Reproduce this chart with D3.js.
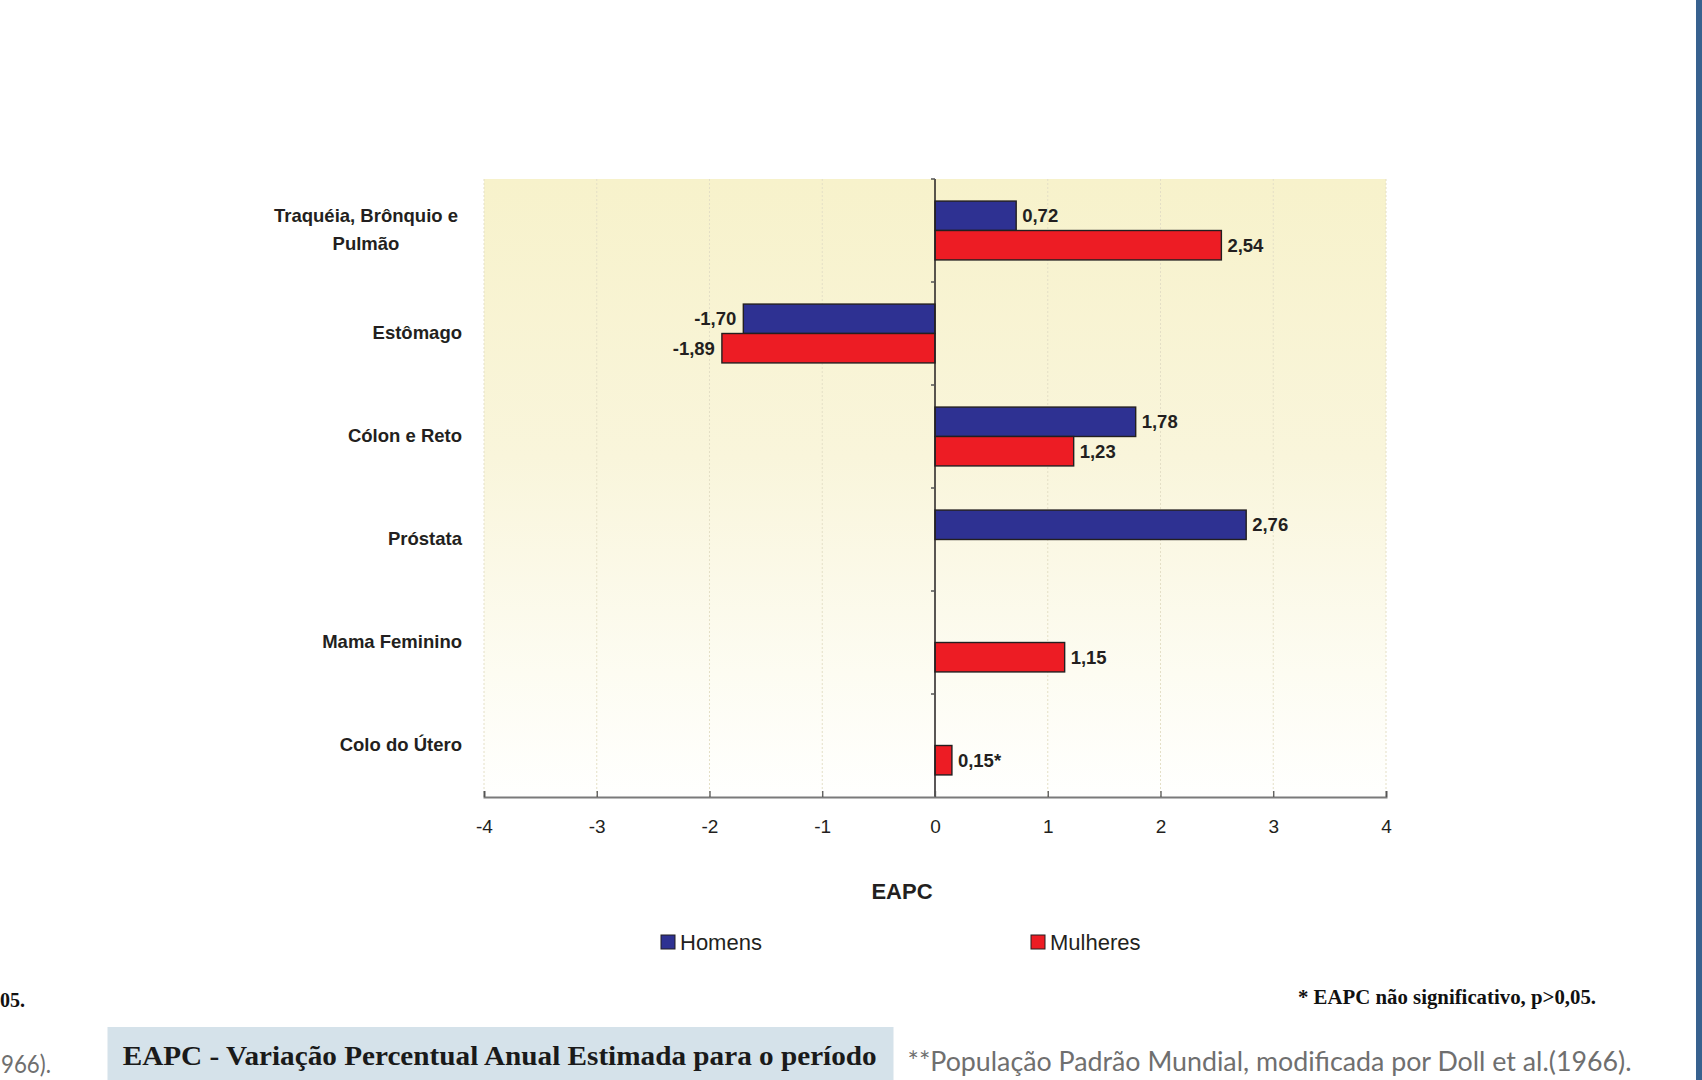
<!DOCTYPE html>
<html><head><meta charset="utf-8">
<script src="https://cdn.jsdelivr.net/npm/d3@7"></script>
<style>body{margin:0;background:#fff;overflow:hidden} svg{display:block}</style>
</head><body><svg id="c" width="1702" height="1080"></svg>
<script>
// ---- data ----
const categories = [["Traquéia, Brônquio e","Pulmão"],["Estômago"],["Cólon e Reto"],["Próstata"],["Mama Feminino"],["Colo do Útero"]];
const seriesNames = ["Homens","Mulheres"];
const homens   = [0.72, -1.70, 1.78, 2.76, null, null];
const mulheres = [2.54, -1.89, 1.23, null, 1.15, 0.15];
const homensSig   = [true, true, true, true, true, true];
const mulheresSig = [true, true, true, true, true, false];
const xTicks = [-4,-3,-2,-1,0,1,2,3,4];
const axisTitle = "EAPC";
const footnote = "* EAPC não significativo, p>0,05.";
const boxText = "EAPC - Variação Percentual Anual Estimada para o período";
const sourceText = "**População Padrão Mundial, modificada por Doll et al.(1966).";
const leftFragments = ["05.", "966)."];

(function(){
const colors = ["#2e3192", "#ed1c24"];
const svg = d3.select("#c");
const W = 1702, H = 1080;
const pL = 484, pR = 1386, pT = 179, pB = 797;

const x = d3.scaleLinear().domain([-4,4]).range([pL,pR]);
const y = d3.scaleBand().domain(d3.range(categories.length)).range([pT,pB]);
const sub = d3.scaleBand().domain([0,1]).range([0,y.bandwidth()]).paddingOuter(0.75);

// background gradient
const defs = svg.append("defs");
const g = defs.append("linearGradient").attr("id","bg").attr("x1",0).attr("y1",0).attr("x2",0).attr("y2",1);
g.append("stop").attr("offset","0%").attr("stop-color","#f7f2cb");
g.append("stop").attr("offset","45%").attr("stop-color","#f9f5db");
g.append("stop").attr("offset","80%").attr("stop-color","#fdfcf2");
g.append("stop").attr("offset","100%").attr("stop-color","#fffffe");
svg.append("rect").attr("x",pL).attr("y",pT).attr("width",pR-pL).attr("height",pB-pT).attr("fill","url(#bg)");

// gridlines
svg.append("g").selectAll("line").data(xTicks.filter(d=>d!==0)).join("line")
  .attr("x1",d=>x(d)).attr("x2",d=>x(d)).attr("y1",pT).attr("y2",pB)
  .attr("stroke","#e4dfc6").attr("stroke-width",1).attr("stroke-dasharray","2,2");

// bars
const fmt = v => d3.format(".2f")(v).replace(".",",").replace("−","-");
const series = [homens, mulheres];
const sigs = [homensSig, mulheresSig];
const barData = [];
series.forEach((arr,si)=>arr.forEach((v,ci)=>{ if(v!==null) barData.push({si,ci,v,sig:sigs[si][ci]}); }));

svg.append("g").selectAll("rect").data(barData).join("rect")
  .attr("x",d=>x(Math.min(0,d.v)))
  .attr("y",d=>y(d.ci)+sub(d.si))
  .attr("width",d=>Math.abs(x(d.v)-x(0)))
  .attr("height",sub.bandwidth())
  .attr("fill",d=>colors[d.si])
  .attr("stroke","#231f20").attr("stroke-width",1.4);

// value labels
svg.append("g").selectAll("text").data(barData).join("text")
  .attr("x",d=>d.v>=0 ? x(d.v)+6 : x(d.v)-7)
  .attr("y",d=>y(d.ci)+sub(d.si)+sub.bandwidth()/2)
  .attr("dy","0.36em")
  .attr("text-anchor",d=>d.v>=0?"start":"end")
  .attr("font-family","Liberation Sans, Arial, sans-serif").attr("font-weight","bold")
  .attr("font-size",18.5).attr("fill","#231f20")
  .text(d=>fmt(d.v)+(d.sig?"":"*"));

// zero line
svg.append("line").attr("x1",x(0)).attr("x2",x(0)).attr("y1",pT).attr("y2",pB)
  .attr("stroke","#231f20").attr("stroke-width",1.5);

// y ticks (category boundaries)
svg.append("g").selectAll("line").data(d3.range(categories.length)).join("line")
  .attr("x1",x(0)-4).attr("x2",x(0)).attr("y1",d=>y(d)).attr("y2",d=>y(d))
  .attr("stroke","#555").attr("stroke-width",1.5);

// x axis
const xAxis = d3.axisBottom(x).tickValues(xTicks).tickSize(-6).tickPadding(14).tickFormat(d3.format("d"));
const ax = svg.append("g").attr("transform",`translate(0,${pB})`).call(xAxis);
ax.select(".domain").attr("stroke","#7a7a7a").attr("stroke-width",2);
ax.selectAll(".tick line").attr("stroke","#555").attr("stroke-width",1.3);
ax.selectAll(".tick text").attr("font-family","Liberation Sans Narrow, Arial Narrow, Liberation Sans, sans-serif")
  .attr("font-size",19).attr("fill","#231f20").attr("y",29).attr("dy","0.36em").text(d=>String(d).replace("−","-"));

// category labels
const catG = svg.append("g").attr("font-family","Liberation Sans, Arial, sans-serif").attr("font-weight","bold")
  .attr("font-size",18.5).attr("fill","#231f20");
categories.forEach((lines,i)=>{
  const cy = y(i)+y.bandwidth()/2;
  const lh = 28;
  const multi = lines.length>1;
  const t = catG.append("text").attr("text-anchor",multi?"middle":"end");
  lines.forEach((ln,j)=>{
    t.append("tspan").attr("x",multi?366:462)
      .attr("y",cy-1+(j-(lines.length-1)/2)*lh).attr("dy","0.36em").text(ln);
  });
});

// axis title
svg.append("text").attr("x",902).attr("y",891).attr("dy","0.36em").attr("text-anchor","middle")
  .attr("font-family","Liberation Sans, Arial, sans-serif").attr("font-weight","bold").attr("font-size",22)
  .attr("fill","#231f20").text(axisTitle);

// legend
const legX = [661, 1031];
const leg = svg.append("g").selectAll("g").data(seriesNames).join("g")
  .attr("transform",(d,i)=>`translate(${legX[i]},942)`);
leg.append("rect").attr("x",0).attr("y",-7).attr("width",14).attr("height",14)
  .attr("fill",(d,i)=>colors[i]).attr("stroke","#231f20").attr("stroke-width",1);
leg.append("text").attr("x",19).attr("y",0).attr("dy","0.36em")
  .attr("font-family","Liberation Sans, Arial, sans-serif").attr("font-size",22).attr("fill","#231f20").text(d=>d);

// footnotes
svg.append("text").attr("x",1298).attr("y",996.5).attr("dy","0.36em")
  .attr("font-family","Liberation Serif, Times New Roman, serif").attr("font-weight","bold").attr("font-size",20)
  .attr("textLength",298).attr("lengthAdjust","spacingAndGlyphs")
  .attr("fill","#111").text(footnote);
svg.append("text").attr("x",0).attr("y",1000).attr("dy","0.36em")
  .attr("font-family","Liberation Serif, Times New Roman, serif").attr("font-weight","bold").attr("font-size",20)
  .attr("fill","#111").text(leftFragments[0]);

// bottom box
svg.append("rect").attr("x",107.5).attr("y",1027).attr("width",786).attr("height",60).attr("fill","#d5e2ea");
svg.append("text").attr("x",122.7).attr("y",1055).attr("dy","0.36em")
  .attr("font-family","Liberation Serif, Times New Roman, serif").attr("font-weight","bold").attr("font-size",27)
  .attr("textLength",754).attr("lengthAdjust","spacingAndGlyphs")
  .attr("fill","#1a1a1a").text(boxText);
svg.append("text").attr("x",907.5).attr("y",1061).attr("dy","0.36em")
  .attr("font-family","Lato, Open Sans, sans-serif").attr("font-size",27)
  .attr("textLength",724).attr("lengthAdjust","spacingAndGlyphs")
  .attr("fill","#6f6f6f").text(sourceText);
svg.append("text").attr("x",1).attr("y",1064).attr("dy","0.36em")
  .attr("font-family","Lato, Open Sans, sans-serif").attr("font-size",25)
  .attr("textLength",50).attr("lengthAdjust","spacingAndGlyphs")
  .attr("fill","#6f6f6f").text(leftFragments[1]);

// right edge bar
svg.append("rect").attr("x",1696).attr("y",0).attr("width",6).attr("height",H).attr("fill","#37618f");
})();
</script></body></html>
